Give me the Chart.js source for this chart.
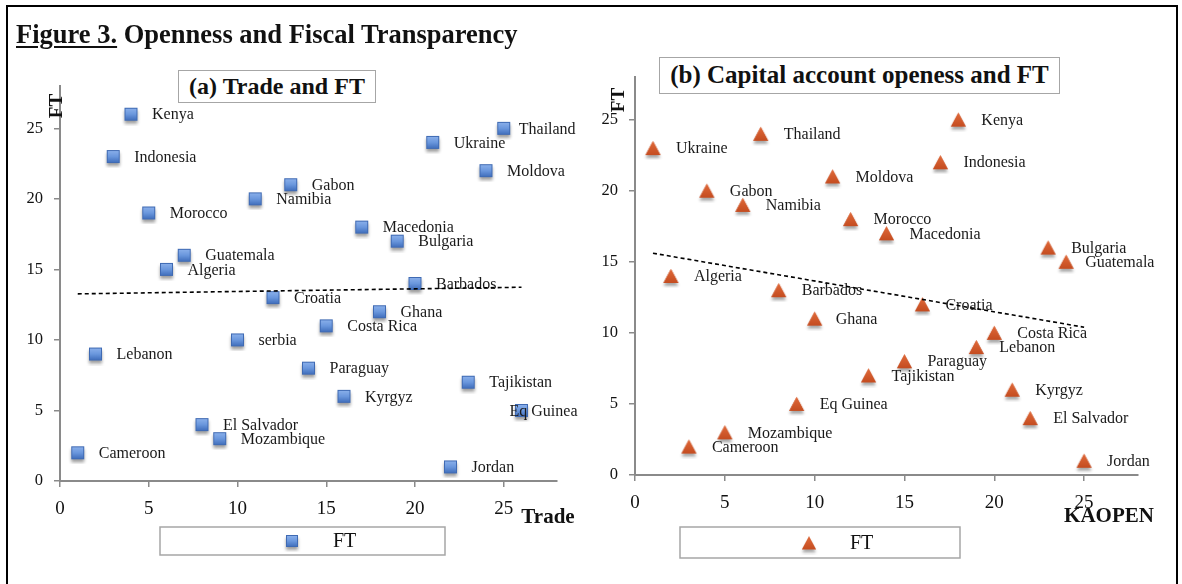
<!DOCTYPE html>
<html><head><meta charset="utf-8">
<script src="https://cdn.jsdelivr.net/npm/chart.js@4/dist/chart.umd.min.js"></script>
<style>
html,body{margin:0;padding:0;background:#fff;}
body{width:1182px;height:584px;position:relative;overflow:hidden;font-family:"Liberation Serif",serif;color:#111;}
#frame{position:absolute;left:6px;top:5px;width:1172px;height:620px;border:2px solid #000;box-sizing:border-box;}
#title{position:absolute;left:16px;top:19px;font-weight:bold;font-size:26.5px;line-height:31px;white-space:nowrap;z-index:3;}
#title u{text-decoration-thickness:2px;text-underline-offset:3px;}
.sub{position:absolute;border:1.5px solid #a6a6a6;background:#fff;font-weight:bold;text-align:center;box-sizing:border-box;white-space:nowrap;z-index:3;}
canvas{position:absolute;top:0;z-index:1;}
</style></head>
<body>
<div id="frame"></div>
<div id="title"><u>Figure 3.</u> Openness and Fiscal Transparency</div>
<div class="sub" style="left:178px;top:70px;width:198px;height:33px;line-height:30px;font-size:24px;">(a) Trade and FT</div>
<div class="sub" style="left:659px;top:57px;width:401px;height:37px;line-height:34px;font-size:25px;">(b) Capital account openess and FT</div>
<canvas id="cA" width="590" height="584" style="left:0px;width:590px;height:584px;"></canvas>
<canvas id="cB" width="592" height="584" style="left:590px;width:592px;height:584px;"></canvas>
<script>
// ---------- data ----------
const countriesA = ["Kenya","Indonesia","Morocco","Guatemala","Algeria","Namibia","Gabon","Croatia","serbia","Lebanon","El Salvador","Mozambique","Cameroon","Costa Rica","Paraguay","Kyrgyz","Macedonia","Bulgaria","Barbados","Ghana","Ukraine","Thailand","Moldova","Tajikistan","Eq Guinea","Jordan"];
const tradeA = [4,3,5,7,6,11,13,12,10,2,8,9,1,15,14,16,17,19,20,18,21,25,24,23,26,22];
const ftA    = [26,23,19,16,15,20,21,13,10,9,4,3,2,11,8,6,18,17,14,12,24,25,22,7,5,1];

const countriesB = ["Ukraine","Thailand","Kenya","Indonesia","Moldova","Gabon","Namibia","Morocco","Macedonia","Bulgaria","Guatemala","Algeria","Barbados","Croatia","Ghana","Costa Rica","Lebanon","Paraguay","Tajikistan","Kyrgyz","Eq Guinea","El Salvador","Mozambique","Cameroon","Jordan"];
const kaopenB = [1,7,18,17,11,4,6,12,14,23,24,2,8,16,10,20,19,15,13,21,9,22,5,3,25];
const ftB     = [23,24,25,22,21,20,19,18,17,16,15,14,13,12,11,10,9,8,7,6,5,4,3,2,1];

const xTickValues = [0,5,10,15,20,25];
const yTickValues = [0,5,10,15,20,25];
const axisMax = 28;
const seriesName = "FT";

// ---------- helpers ----------
function linFit(xs, ys){
  const n = xs.length;
  const mx = xs.reduce((a,b)=>a+b,0)/n, my = ys.reduce((a,b)=>a+b,0)/n;
  let sxy=0, sxx=0;
  for(let i=0;i<n;i++){ sxy+=(xs[i]-mx)*(ys[i]-my); sxx+=(xs[i]-mx)*(xs[i]-mx); }
  const b = sxy/sxx, a = my - b*mx;
  const x0 = Math.min(...xs), x1 = Math.max(...xs);
  return [{x:x0,y:a+b*x0},{x:x1,y:a+b*x1}];
}

function makeSquare(size){
  const c = document.createElement('canvas'); c.width = size+10; c.height = size+10;
  const g = c.getContext('2d');
  const o = 5;
  g.save();
  g.shadowColor='rgba(0,0,0,0.38)'; g.shadowBlur=3; g.shadowOffsetY=3;
  g.fillStyle='#4a78c4'; g.fillRect(o,o,size,size);
  g.restore();
  const gr = g.createLinearGradient(0,o,0,o+size);
  gr.addColorStop(0,'#8db2ec'); gr.addColorStop(0.5,'#6a97dd'); gr.addColorStop(1,'#3d6bb9');
  g.fillStyle=gr; g.fillRect(o,o,size,size);
  g.strokeStyle='#3f6ab3'; g.lineWidth=1; g.strokeRect(o+0.5,o+0.5,size-1,size-1);
  return c;
}
function makeTriangle(w,h){
  const c = document.createElement('canvas'); c.width = w+10; c.height = h+10;
  const g = c.getContext('2d');
  const ox=5, oy=5;
  const path = ()=>{ g.beginPath(); g.moveTo(ox+w/2,oy); g.lineTo(ox+w,oy+h); g.lineTo(ox,oy+h); g.closePath(); };
  g.save(); g.shadowColor='rgba(0,0,0,0.35)'; g.shadowBlur=3; g.shadowOffsetY=3;
  path(); g.fillStyle='#cc5226'; g.fill(); g.restore();
  const gr = g.createLinearGradient(0,oy,0,oy+h);
  gr.addColorStop(0,'#e06a3a'); gr.addColorStop(1,'#c44c20');
  path(); g.fillStyle=gr; g.fill();
  return c;
}
const sqImg = makeSquare(13), sqLegend = makeSquare(12);
const triImg = makeTriangle(15,14), triLegend = makeTriangle(14,13);

function labelPlugin(names, defDx, dxMap){
  return {
    id:'ptLabels',
    afterDatasetDraw(chart, args){
      if(args.index!==0) return;
      const ctx = chart.ctx; ctx.save();
      ctx.font = '16px "Liberation Serif"'; ctx.fillStyle = '#1a1a1a'; ctx.textBaseline='middle'; ctx.textAlign='left';
      args.meta.data.forEach((el,i)=>{
        const n = names[i]; const dx = (n in dxMap) ? dxMap[n] : defDx;
        ctx.fillText(n, el.x+dx, el.y+1);
      });
      ctx.restore();
    }
  };
}
function decorPlugin(cfg){
  return {
    id:'decor',
    afterDraw(chart){
      const ctx = chart.ctx; ctx.save();
      // axis titles
      ctx.fillStyle='#111'; ctx.font='bold 21px "Liberation Serif"'; ctx.textAlign='center'; ctx.textBaseline='middle';
      ctx.fillText(cfg.xTitle, cfg.xTitlePos[0], cfg.xTitlePos[1]);
      ctx.save(); ctx.translate(cfg.yTitlePos[0], cfg.yTitlePos[1]); ctx.rotate(-Math.PI/2);
      ctx.font='bold 19px "Liberation Serif"'; ctx.fillText(cfg.yTitle,0,0); ctx.restore();
      // legend
      const L = cfg.legend;
      ctx.strokeStyle='#a6a6a6'; ctx.lineWidth=1.5; ctx.fillStyle='#fff';
      ctx.fillRect(L.x,L.y,L.w,L.h); ctx.strokeRect(L.x,L.y,L.w,L.h);
      ctx.drawImage(L.img, L.mx - L.img.width/2, L.my - L.img.height/2);
      ctx.fillStyle='#111'; ctx.font='20px "Liberation Serif"'; ctx.textAlign='left'; ctx.textBaseline='middle';
      ctx.fillText(seriesName, L.tx, L.my+1);
      ctx.restore();
    }
  };
}

function makeChart(canvasId, xs, ys, names, img, pad, yW, xH, defDx, dxMap, decor){
  const pts = xs.map((x,i)=>({x:x, y:ys[i]}));
  const trend = linFit(xs, ys);
  return new Chart(document.getElementById(canvasId), {
    type:'scatter',
    data:{ datasets:[
      { label:seriesName, data:pts, pointStyle:img, pointRadius:7, order:1 },
      { label:'trend', data:trend, showLine:true, borderColor:'#000', borderWidth:1.6, borderDash:[4,3], pointRadius:0, fill:false, order:0 }
    ]},
    options:{
      responsive:false, animation:false, devicePixelRatio:1, events:[],
      layout:{ padding:pad },
      plugins:{ legend:{display:false}, tooltip:{enabled:false}, title:{display:false} },
      scales:{
        x:{ type:'linear', min:0, max:axisMax,
            afterFit:s=>{ s.height = xH; },
            afterBuildTicks:s=>{ s.ticks = xTickValues.map(v=>({value:v})); },
            border:{ display:true, color:'#8a8a8a', width:2 },
            grid:{ display:true, drawOnChartArea:false, drawTicks:true, tickLength:6, color:'#8a8a8a', lineWidth:1.5 },
            ticks:{ color:'#111', font:{ family:'"Liberation Serif"', size:19 }, padding:11, maxRotation:0 } },
        y:{ type:'linear', min:0, max:axisMax,
            afterFit:s=>{ s.width = yW; },
            afterBuildTicks:s=>{ s.ticks = yTickValues.map(v=>({value:v})); },
            border:{ display:true, color:'#8a8a8a', width:2 },
            grid:{ display:true, drawOnChartArea:false, drawTicks:true, tickLength:6, color:'#8a8a8a', lineWidth:1.5 },
            ticks:{ color:'#111', font:{ family:'"Liberation Serif"', size:16.5 }, padding:11 } }
      }
    },
    plugins:[ labelPlugin(names, defDx, dxMap), decorPlugin(decor) ]
  });
}

makeChart('cA', tradeA, ftA, countriesA, sqImg,
  {left:0, top:86, right:33, bottom:0}, 60, 103, 21, {"Thailand":15, "Eq Guinea":-12},
  { xTitle:'Trade', xTitlePos:[548,518], yTitle:'FT', yTitlePos:[57,106],
    legend:{ x:160, y:527, w:285, h:28, img:sqLegend, mx:292, my:541, tx:333 } });

makeChart('cB', kaopenB, ftB, countriesB, triImg,
  {left:0, top:77, right:44, bottom:0}, 45, 109, 23, {"Guatemala":19, "Ghana":21},
  { xTitle:'KAOPEN', xTitlePos:[519,517], yTitle:'FT', yTitlePos:[29,100],
    legend:{ x:90, y:527, w:280, h:31, img:triLegend, mx:219, my:543, tx:260 } });
</script>
</body></html>
